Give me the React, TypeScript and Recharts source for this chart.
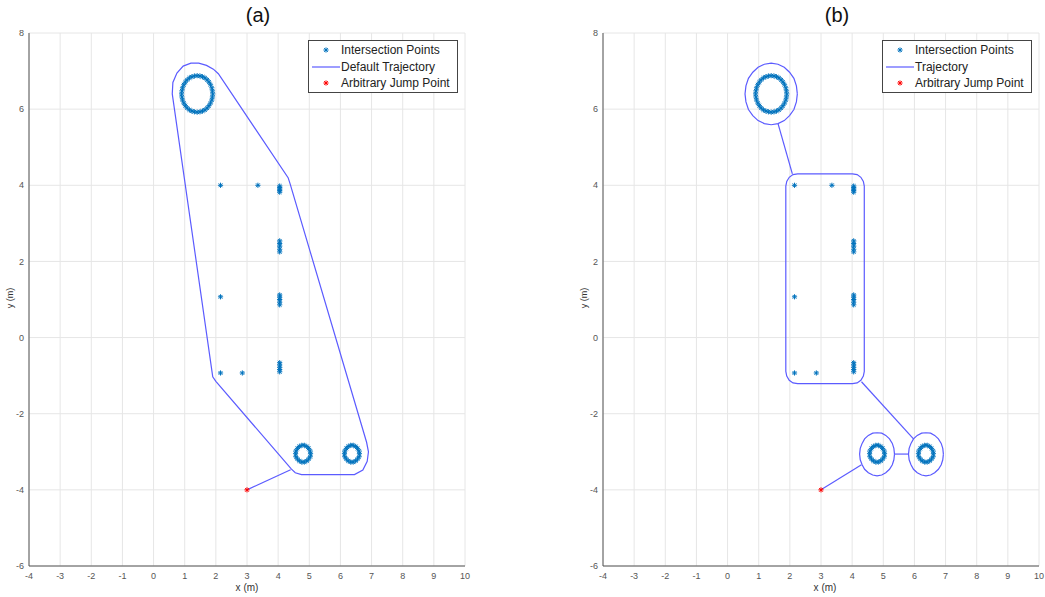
import { ScatterChart, Scatter, XAxis, YAxis, CartesianGrid } from "recharts";

// intersection points (shared by both panels)
const bigRing: [number, number][] = [
  [1.90, 6.40], [1.89, 6.48], [1.87, 6.56], [1.83, 6.64], [1.78, 6.71], [1.72, 6.77],
  [1.65, 6.82], [1.57, 6.85], [1.49, 6.87], [1.40, 6.88], [1.31, 6.87], [1.23, 6.85],
  [1.15, 6.82], [1.08, 6.77], [1.02, 6.71], [0.97, 6.64], [0.93, 6.56], [0.91, 6.48],
  [0.90, 6.40], [0.91, 6.32], [0.93, 6.24], [0.97, 6.16], [1.02, 6.09], [1.08, 6.03],
  [1.15, 5.98], [1.23, 5.95], [1.31, 5.93], [1.40, 5.92], [1.49, 5.93], [1.57, 5.95],
  [1.65, 5.98], [1.72, 6.03], [1.78, 6.09], [1.83, 6.16], [1.87, 6.24], [1.89, 6.32],
];
const ringLeft: [number, number][] = [
  [5.04, -3.05], [5.03, -2.98], [4.98, -2.91], [4.92, -2.86], [4.84, -2.83], [4.76, -2.83],
  [4.68, -2.86], [4.62, -2.91], [4.57, -2.98], [4.56, -3.05], [4.57, -3.13], [4.62, -3.19],
  [4.68, -3.24], [4.76, -3.27], [4.84, -3.27], [4.92, -3.24], [4.98, -3.19], [5.03, -3.13],
];
const ringRight: [number, number][] = [
  [6.61, -3.05], [6.60, -2.98], [6.55, -2.91], [6.49, -2.86], [6.41, -2.83], [6.33, -2.83],
  [6.25, -2.86], [6.19, -2.91], [6.14, -2.98], [6.13, -3.05], [6.14, -3.13], [6.19, -3.19],
  [6.25, -3.24], [6.33, -3.27], [6.41, -3.27], [6.49, -3.24], [6.55, -3.19], [6.60, -3.13],
];
const columnPts: [number, number][] = [
  [4.05, 3.82], [4.05, 3.86], [4.05, 3.90], [4.05, 3.94], [4.05, 3.98],
  [4.05, 2.25], [4.05, 2.32], [4.05, 2.40], [4.05, 2.47], [4.05, 2.54],
  [4.05, 0.86], [4.05, 0.93], [4.05, 1.00], [4.05, 1.06], [4.05, 1.12],
  [4.05, -0.66], [4.05, -0.72], [4.05, -0.78], [4.05, -0.84], [4.05, -0.90],
];
const singlePts: [number, number][] = [
  [2.15, 4.0], [3.35, 4.0], [2.15, 1.07], [2.15, -0.93], [2.85, -0.93],
];
const jumpPoint: [number, number][] = [[3.0, -4.0]];

// panel (a) default trajectory
const trajA: [number, number][] = [
  [0.60, 6.40], [0.62, 6.70], [0.75, 6.95], [0.95, 7.13], [1.20, 7.21], [1.45, 7.21],
  [1.70, 7.15], [1.92, 7.05], [2.08, 6.93], [4.32, 4.20], [4.38, 4.05], [6.84, -2.75],
  [6.90, -3.00], [6.86, -3.25], [6.72, -3.48], [6.45, -3.60], [4.75, -3.60], [4.55, -3.55],
  [4.42, -3.45], [2.00, -1.15], [1.90, -1.03], [0.60, 6.40],
];
const jumpA: [number, number][] = [[3.0, -4.0], [4.40, -3.47]];

// panel (b) trajectory pieces
const ellipseTop: [number, number][] = [
  [2.24, 6.40], [2.21, 6.61], [2.13, 6.81], [1.99, 6.97], [1.82, 7.10], [1.62, 7.18],
  [1.40, 7.21], [1.18, 7.18], [0.98, 7.10], [0.81, 6.97], [0.67, 6.81], [0.59, 6.61],
  [0.56, 6.40], [0.59, 6.19], [0.67, 5.99], [0.81, 5.83], [0.98, 5.70], [1.18, 5.62],
  [1.40, 5.59], [1.62, 5.62], [1.82, 5.70], [1.99, 5.83], [2.13, 5.99], [2.21, 6.19],
  [2.24, 6.40],
];
const linkTop: [number, number][] = [[1.62, 5.62], [2.08, 4.30]];
const rectBox: [number, number][] = [
  [1.87, 3.98], [1.90, 4.10], [1.98, 4.21], [2.10, 4.28], [2.25, 4.30],
  [4.01, 4.30], [4.16, 4.28], [4.28, 4.21], [4.36, 4.10], [4.39, 3.98],
  [4.39, -0.89], [4.36, -1.01], [4.28, -1.12], [4.16, -1.19], [4.01, -1.21],
  [2.25, -1.21], [2.10, -1.19], [1.98, -1.12], [1.90, -1.01], [1.87, -0.89],
  [1.87, 3.98],
];
const linkRight: [number, number][] = [[4.30, -1.16], [5.97, -2.66]];
const ellipseLeft: [number, number][] = [
  [5.36, -3.06], [5.34, -2.91], [5.29, -2.78], [5.20, -2.66], [5.08, -2.57], [4.95, -2.51],
  [4.80, -2.50], [4.66, -2.51], [4.52, -2.57], [4.40, -2.66], [4.32, -2.78], [4.26, -2.91],
  [4.24, -3.06], [4.26, -3.21], [4.32, -3.34], [4.40, -3.46], [4.52, -3.55], [4.66, -3.61],
  [4.80, -3.63], [4.95, -3.61], [5.08, -3.55], [5.20, -3.46], [5.29, -3.34], [5.34, -3.21],
  [5.36, -3.06],
];
const ellipseRight: [number, number][] = [
  [6.93, -3.06], [6.91, -2.91], [6.86, -2.78], [6.77, -2.66], [6.65, -2.57], [6.52, -2.51],
  [6.37, -2.50], [6.23, -2.51], [6.09, -2.57], [5.97, -2.66], [5.89, -2.78], [5.83, -2.91],
  [5.81, -3.06], [5.83, -3.21], [5.89, -3.34], [5.97, -3.46], [6.09, -3.55], [6.23, -3.61],
  [6.37, -3.63], [6.52, -3.61], [6.65, -3.55], [6.77, -3.46], [6.86, -3.34], [6.91, -3.21],
  [6.93, -3.06],
];
const linkMid: [number, number][] = [[5.36, -3.06], [5.81, -3.06]];
const jumpB: [number, number][] = [[3.0, -4.0], [4.30, -3.34]];

const xTicks = [-4, -3, -2, -1, 0, 1, 2, 3, 4, 5, 6, 7, 8, 9, 10];
const yTicks = [-6, -4, -2, 0, 2, 4, 6, 8];

const BLUE = "#0072BD";
const RED = "#FF0000";
const LINE = "#5b5bff";
const FONT = "'Liberation Sans', Arial, sans-serif";

const toPts = (a: [number, number][]) => a.map(([x, y]) => ({ x, y }));

const makeStar = (color: string, r: number) => (props: any) => {
  const { cx, cy } = props;
  if (cx == null || cy == null) return <g />;
  const d = r * 0.72;
  return (
    <g stroke={color} strokeWidth={1}>
      <line x1={cx - r} y1={cy} x2={cx + r} y2={cy} />
      <line x1={cx} y1={cy - r} x2={cx} y2={cy + r} />
      <line x1={cx - d} y1={cy - d} x2={cx + d} y2={cy + d} />
      <line x1={cx - d} y1={cy + d} x2={cx + d} y2={cy - d} />
    </g>
  );
};
const BlueStar = makeStar(BLUE, 2.6);
const RedStar = makeStar(RED, 2.6);
const Empty = () => <g />;

function Panel({ paths, width, marginRight }: { paths: [number, number][][]; width: number; marginRight: number }) {
  const pointSets = [bigRing, ringLeft, ringRight, columnPts, singlePts];
  return (
    <ScatterChart width={width} height={597} margin={{ top: 33, right: marginRight, left: 9, bottom: 9 }}>
      <CartesianGrid stroke="#e6e6e6" strokeWidth={1} />
      <XAxis
        type="number" dataKey="x" domain={[-4, 10]} ticks={xTicks} allowDataOverflow
        height={22} tickSize={0} tickMargin={7} interval={0}
        axisLine={{ stroke: "#555" }} tick={{ fill: "#555", fontSize: 9, fontFamily: FONT }}
      />
      <YAxis
        type="number" dataKey="y" domain={[-6, 8]} ticks={yTicks} allowDataOverflow
        width={20} tickSize={0} tickMargin={5} interval={0}
        axisLine={{ stroke: "#555" }} tick={{ fill: "#555", fontSize: 9, fontFamily: FONT }}
      />
      {paths.map((p, i) => (
        <Scatter key={"t" + i} data={toPts(p)} shape={Empty} line={{ stroke: LINE, strokeWidth: 1.2, fill: "none" }}
          lineType="joint" isAnimationActive={false} legendType="none" />
      ))}
      {pointSets.map((p, i) => (
        <Scatter key={"p" + i} data={toPts(p)} shape={BlueStar} isAnimationActive={false} legendType="none" />
      ))}
      <Scatter data={toPts(jumpPoint)} shape={RedStar} isAnimationActive={false} legendType="none" />
    </ScatterChart>
  );
}

function LegendBox({ left, lineLabel }: { left: number; lineLabel: string }) {
  const row = (top: number, icon: JSX.Element, label: string) => (
    <div style={{ position: "absolute", left: 0, top, height: 16, display: "flex", alignItems: "center" }}>
      <svg width={32} height={16}>{icon}</svg>
      <span style={{ fontSize: 12, color: "#222", whiteSpace: "nowrap" }}>{label}</span>
    </div>
  );
  return (
    <div style={{
      position: "absolute", left, top: 40, width: 148, height: 51, border: "1px solid #444",
      background: "#fff", fontFamily: FONT,
    }}>
      {row(1, BlueStar({ cx: 17, cy: 8 }), "Intersection Points")}
      {row(18, <line x1={3} y1={8} x2={31} y2={8} stroke={LINE} strokeWidth={1.2} />, lineLabel)}
      {row(34, RedStar({ cx: 17, cy: 8 }), "Arbitrary Jump Point")}
    </div>
  );
}

const txt = (extra: any) => ({ position: "absolute" as const, fontFamily: FONT, color: "#333", whiteSpace: "nowrap" as const, ...extra });

export default function App() {
  return (
    <div style={{ position: "fixed", left: 0, top: 0, width: 1045, height: 597, background: "#fff", overflow: "hidden" }}>
      <div style={{ position: "absolute", left: 0, top: 0 }}>
        <Panel paths={[trajA, jumpA]} width={480} marginRight={15} />
      </div>
      <div style={{ position: "absolute", left: 574, top: 0 }}>
        <Panel paths={[ellipseTop, linkTop, rectBox, linkRight, ellipseLeft, ellipseRight, linkMid, jumpB]} width={471} marginRight={6} />
      </div>
      <LegendBox left={308} lineLabel="Default Trajectory" />
      <LegendBox left={882} lineLabel="Trajectory" />
      <div style={txt({ left: 238, top: 4, width: 40, textAlign: "center", fontSize: 20, color: "#111" })}>(a)</div>
      <div style={txt({ left: 817, top: 4, width: 40, textAlign: "center", fontSize: 20, color: "#111" })}>(b)</div>
      <div style={txt({ left: 227, top: 582, width: 40, textAlign: "center", fontSize: 10 })}>x (m)</div>
      <div style={txt({ left: 805, top: 582, width: 40, textAlign: "center", fontSize: 10 })}>x (m)</div>
      <div style={txt({ left: -10, top: 293, width: 40, textAlign: "center", fontSize: 9, transform: "rotate(-90deg)" })}>y (m)</div>
      <div style={txt({ left: 564, top: 293, width: 40, textAlign: "center", fontSize: 9, transform: "rotate(-90deg)" })}>y (m)</div>
    </div>
  );
}
